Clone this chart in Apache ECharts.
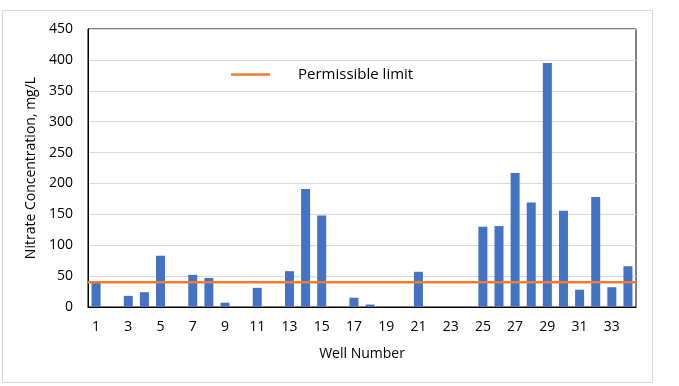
<!DOCTYPE html>
<html><head><meta charset="utf-8">
<script src="https://cdn.jsdelivr.net/npm/echarts@6/dist/echarts.min.js"></script>
<style>html,body{margin:0;padding:0;background:#fff}#c{width:679px;height:386px}</style>
</head><body><div id="c"></div>
<script>
var wells = [];
for (var i = 1; i <= 34; i++) wells.push(String(i));
var nitrate = [39, 0, 18, 24, 83, 0, 52, 47, 7, 0, 31, 0, 58, 191, 148, 0, 15, 4, 0, 0, 57, 0, 0, 0, 130, 131, 217, 169, 395, 156, 28, 178, 32, 66];
var limitValue = [40];
var yTicks = [0, 50, 100, 150, 200, 250, 300, 350, 400, 450];

var font = '"Open Sans", "Liberation Sans", sans-serif';
var chart = echarts.init(document.getElementById('c'));
chart.setOption({
  animation: false,
  backgroundColor: '#fff',
  graphic: [{type: 'rect', shape: {x: 2.5, y: 10.5, width: 650, height: 372}, style: {fill: 'none', stroke: '#d9d9d9', lineWidth: 1}, z: -1}],
  grid: {left: 88, right: 43, top: 29, bottom: 79, show: true, borderColor: '#000', borderWidth: 1, backgroundColor: 'transparent'},
  legend: {
    data: ['Permissible limit'], left: 226, top: 62, icon: 'rect', itemWidth: 39, itemHeight: 2.5,
    textStyle: {fontFamily: font, fontSize: 15, color: '#000', padding: [0, 0, 0, 23]},
    selectedMode: false
  },
  xAxis: [{
    type: 'category', data: wells,
    axisLine: {lineStyle: {color: '#000'}}, axisTick: {show: false},
    axisLabel: {interval: 1, color: '#000', fontFamily: font, fontSize: 14, margin: 13},
    name: 'Well Number', nameLocation: 'middle', nameGap: 40,
    nameTextStyle: {fontFamily: font, fontSize: 14, color: '#000'}
  }, {
    type: 'value', min: 0, max: 1, show: false
  }],
  yAxis: {
    type: 'value', min: yTicks[0], max: yTicks[yTicks.length - 1], interval: 50,
    axisLine: {show: true, lineStyle: {color: '#000'}}, axisTick: {show: false},
    splitLine: {lineStyle: {color: '#d9d9d9'}},
    axisLabel: {color: '#000', fontFamily: font, fontSize: 14, margin: 15},
    name: 'Nitrate Concentration, mg/L', nameLocation: 'middle', nameGap: 44,
    nameTextStyle: {fontFamily: font, fontSize: 14, color: '#000'}
  },
  series: [{
    name: 'Nitrate', type: 'bar', data: nitrate, barWidth: 9,
    itemStyle: {color: '#4472C4'}
  }, {
    name: 'Permissible limit', type: 'line', xAxisIndex: 1,
    data: [[0, limitValue[0]], [1, limitValue[0]]],
    symbol: 'none', lineStyle: {color: '#ED7D31', width: 2.5}, itemStyle: {color: '#ED7D31'}, z: 3
  }]
});
</script></body></html>
